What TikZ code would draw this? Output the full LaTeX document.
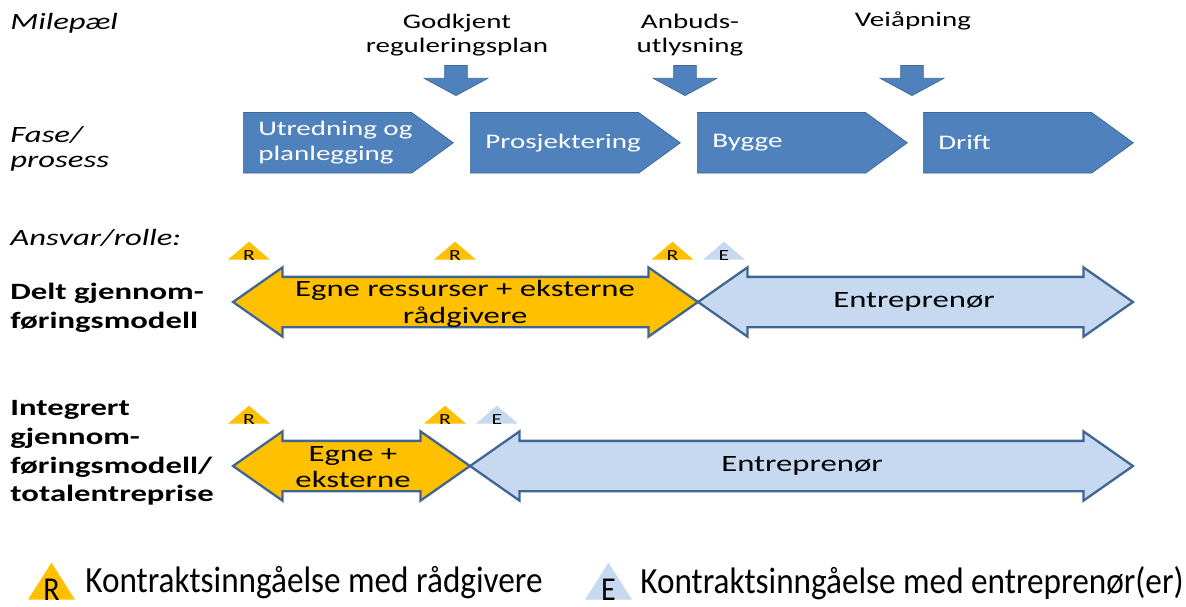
\documentclass[tikz,border=0pt]{standalone}
\usepackage{fontspec}
\setmainfont{Carlito}[FakeStretch=1.4]
\newfontfamily\legendfont{Carlito}[FakeStretch=0.9]
\usetikzlibrary{positioning,shapes.symbols,shapes.arrows,shapes.geometric}

\definecolor{phaseblue}{HTML}{4F81BD}
\definecolor{phaseedge}{HTML}{3C6896}
\definecolor{roleedge}{HTML}{3F6592}
\definecolor{ownorange}{HTML}{FFC000}
\definecolor{contrblue}{HTML}{C6D9F1}

\begin{document}
\begin{tikzpicture}
  [x=0.02cm,y=-0.02cm,
   rowlabel/.style={font=\fontsize{13.3}{14.2}\selectfont\itshape,align=left,anchor=west,inner sep=0pt},
   modellabel/.style={font=\fontsize{13.3}{16.3}\selectfont\bfseries,align=left,anchor=west,inner sep=0pt},
   mstext/.style={font=\fontsize{11.8}{13.7}\selectfont,align=center,inner sep=0pt},
   msarrow/.style={single arrow,rotate=-90,draw=phaseedge,fill=phaseblue,inner xsep=0pt,inner ysep=0.22cm,
     minimum height=0.6cm,single arrow head extend=0.41cm,single arrow tip angle=123},
   phase/.style={signal,signal to=east,signal pointer angle=72,draw=phaseedge,fill=phaseblue,
     inner sep=0pt,anchor=west,minimum width=4.2cm,minimum height=1.21cm},
   phasetext/.style={font=\fontsize{11.8}{14.2}\selectfont,text=white,align=left,inner sep=0pt},
   ownrole/.style={double arrow,draw=roleedge,line width=1.3pt,fill=ownorange,inner xsep=0pt,inner ysep=0.48cm,
     double arrow head extend=0.19cm,double arrow tip angle=70},
   contrrole/.style={ownrole,fill=contrblue},
   roletext/.style={font=\fontsize{13.3}{15.2}\selectfont,align=center,inner sep=0pt},
   tri/.style={isosceles triangle,shape border rotate=90,isosceles triangle stretches,
     inner sep=0pt,anchor=south,minimum width=0.84cm,minimum height=0.36cm},
   marktext/.style={font=\fontsize{8.8}{8.8}\selectfont,anchor=base,inner sep=0pt},
   rmark/.style={tri,fill=ownorange,label={[marktext]south:R}},
   emark/.style={tri,fill=contrblue,label={[marktext]south:E}},
   legendletter/.style={font=\legendfont\fontsize{19}{19}\selectfont,anchor=base,inner sep=0pt},
   legendtext/.style={font=\legendfont\fontsize{21}{21}\selectfont,anchor=west,inner sep=0pt}]
  \useasboundingbox (0,0) rectangle (1186,606);
  % row titles
  \node[rowlabel] (milepael) at (10,23) {Milepæl};
  \node[rowlabel] (fase) at (10,149) {Fase/\\prosess};
  \node[rowlabel] (ansvar) at (10,238) {Ansvar/rolle:};
  \node[modellabel] (delt) at (10,308) {Delt gjennom-\\føringsmodell};
  \node[modellabel] (integrert) at (10,453) {Integrert\\gjennom-\\føringsmodell/\\totalentreprise};
  % milestones
  \node[mstext] (godkjent) at (457,35) {Godkjent\\reguleringsplan};
  \node[mstext] (anbud) at (690,35) {Anbuds-\\utlysning};
  \node[mstext] (veiapning) at (913,21) {Veiåpning};
  \node[msarrow] (pilgodkjent) at (456,77.5) {};
  \node[msarrow] (pilanbud) at (685,77.5) {};
  \node[msarrow] (pilvei) at (912,77.5) {};
  % phases
  \node[phase] (utredning) at (243,142.8) {};
  \node[phase] (prosjektering) at (470,142.8) {};
  \node[phase] (bygge) at (697,142.8) {};
  \node[phase] (drift) at (923,142.8) {};
  \node[phasetext,right=0.3cm of utredning.west] (utredningtxt) {Utredning og\\planlegging};
  \node[phasetext,right=0.3cm of prosjektering.west] (prosjekteringtxt) {Prosjektering};
  \node[phasetext,right=0.3cm of bygge.west] (byggetxt) {Bygge};
  \node[phasetext,right=0.3cm of drift.west] (drifttxt) {Drift};
  % delt gjennomfoeringsmodell
  \node[rmark] (r1a) at (249,260) {};
  \node[rmark] (r1b) at (455,260) {};
  \node[rmark] (r1c) at (672.5,260) {};
  \node[emark] (e1) at (724,260) {};
  \node[ownrole,minimum height=9.3cm] (egne1) at (465.5,302) {};
  \node[contrrole,minimum height=8.7cm] (entr1) at (915.5,302) {};
  \node[roletext] (egne1txt) at (465,304) {Egne ressurser + eksterne\\rådgivere};
  \node[roletext] (entr1txt) at (914,302) {Entreprenør};
  % integrert gjennomfoeringsmodell
  \node[rmark] (r2a) at (249,424) {};
  \node[rmark] (r2b) at (445,424) {};
  \node[emark] (e2) at (497,424) {};
  \node[ownrole,minimum height=4.74cm] (egne2) at (351.5,466) {};
  \node[contrrole,minimum height=13.26cm] (entr2) at (801.5,466) {};
  \node[roletext] (egne2txt) at (353,467) {Egne +\\eksterne};
  \node[roletext] (entr2txt) at (802,466) {Entreprenør};
  % legend
  \node[tri,fill=ownorange,minimum width=0.94cm,minimum height=0.74cm,
        label={[legendletter]south:R}] (legr) at (51.5,600) {};
  \node[legendtext] (legrtxt) at (85,583) {Kontraktsinngåelse med rådgivere};
  \node[tri,fill=contrblue,minimum width=0.94cm,minimum height=0.74cm,
        label={[legendletter]south:E}] (lege) at (608.5,600) {};
  \node[legendtext] (legetxt) at (640,583) {Kontraktsinngåelse med entreprenør(er)};
\end{tikzpicture}
\end{document}
